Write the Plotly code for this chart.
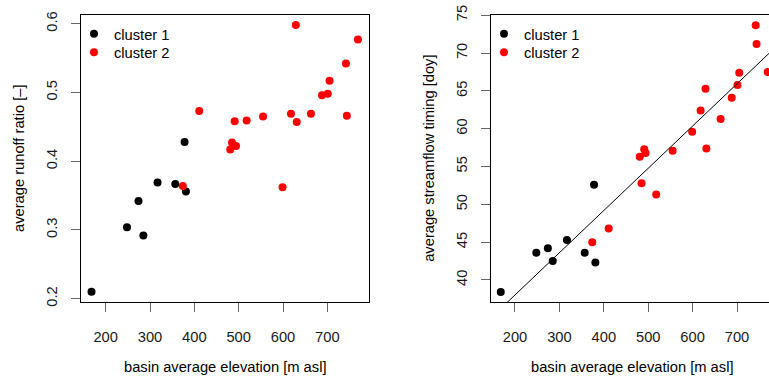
import plotly.graph_objects as go

# ---- data ----
c1_elev = [168, 248, 274, 285, 317, 357, 378, 381]
c1_runoff = [0.210, 0.304, 0.342, 0.292, 0.369, 0.367, 0.428, 0.356]
c1_timing = [38.4, 43.6, 44.2, 42.5, 45.3, 43.6, 52.6, 42.3]

c2_elev = [374, 411, 481, 485, 491, 494, 518, 555, 599, 618, 629, 631, 663, 688, 701, 705, 742, 744, 769]
c2_runoff = [0.364, 0.473, 0.417, 0.427, 0.458, 0.422, 0.459, 0.465, 0.362, 0.469, 0.598, 0.457,
             0.469, 0.496, 0.498, 0.517, 0.542, 0.466, 0.577]
c2_timing = [45.0, 46.8, 56.3, 52.8, 57.3, 56.8, 51.3, 57.1, 59.6, 62.4, 65.3, 57.4,
             61.3, 64.1, 65.8, 67.4, 73.7, 71.2, 67.5]

fit_intercept = 26.85
fit_slope = 0.05585

x_title = "basin average elevation [m asl]"
y1_title = "average runoff ratio [\u2013]"
y2_title = "average streamflow timing [doy]"

W, H = 769, 379
FONT = "Liberation Sans, Arial, sans-serif"
FS = 14.7

def px_x(p):
    return p / W

def px_y(p):
    return 1 - p / H

fig = go.Figure()

mk = dict(size=8, line=dict(width=0))
fig.add_trace(go.Scatter(x=c1_elev, y=c1_runoff, mode="markers", name="cluster 1",
                         marker=dict(color="black", **mk), xaxis="x", yaxis="y", legend="legend"))
fig.add_trace(go.Scatter(x=c2_elev, y=c2_runoff, mode="markers", name="cluster 2",
                         marker=dict(color="#ff0000", **mk), xaxis="x", yaxis="y", legend="legend2"))
fig.add_trace(go.Scatter(x=c1_elev, y=c1_timing, mode="markers", name="cluster 1",
                         marker=dict(color="black", **mk), xaxis="x2", yaxis="y2", legend="legend3"))
fig.add_trace(go.Scatter(x=c2_elev, y=c2_timing, mode="markers", name="cluster 2",
                         marker=dict(color="#ff0000", **mk), xaxis="x2", yaxis="y2", legend="legend4"))

line_x = [100, 900]
line_y = [fit_intercept + fit_slope * v for v in line_x]
fig.add_trace(go.Scatter(x=line_x, y=line_y, mode="lines", line=dict(color="black", width=1),
                         showlegend=False, xaxis="x2", yaxis="y2", hoverinfo="skip"))

yb = [px_y(302.3), px_y(14.7)]
tickfont = dict(family=FONT, size=FS, color="#1a1a1a")
common_x = dict(showgrid=False, zeroline=False, ticks="outside", ticklen=9, tickwidth=1,
                tickcolor="#666666", showline=True, linecolor="black", linewidth=1,
                tickvals=[200, 300, 400, 500, 600, 700], tickfont=tickfont,
                ticklabelstandoff=12, automargin=False)
common_y = dict(showgrid=False, zeroline=False, ticks="outside", ticklen=9, tickwidth=1,
                tickcolor="#666666", showline=True, linecolor="black", linewidth=1,
                tickangle=-90, tickfont=tickfont, ticklabelstandoff=8, automargin=False)

def leg(xp, yp):
    return dict(x=px_x(xp), y=px_y(yp), xanchor="left", yanchor="top", bgcolor="rgba(0,0,0,0)",
                font=dict(family=FONT, size=FS), itemwidth=30, tracegroupgap=0)

fig.update_layout(
    width=W, height=H,
    margin=dict(l=0, r=0, t=0, b=0, autoexpand=False),
    paper_bgcolor="white", plot_bgcolor="white",
    font=dict(family=FONT, size=FS, color="black"),
    xaxis=dict(domain=[px_x(81), px_x(369)], range=[144.3, 794], anchor="y", mirror=True, **common_x),
    yaxis=dict(domain=yb, range=[0.1948, 0.613], anchor="x", mirror=True,
               tickvals=[0.2, 0.3, 0.4, 0.5, 0.6], ticktext=["0.2", "0.3", "0.4", "0.5", "0.6"], **common_y),
    xaxis2=dict(domain=[px_x(490.7), 1.0], range=[145.3, 772], anchor="y2", mirror=True, **common_x),
    yaxis2=dict(domain=yb, range=[37.05, 75.08], anchor="x2", mirror=False,
                tickvals=[40, 45, 50, 55, 60, 65, 70, 75], **common_y),
    showlegend=True,
    legend=leg(74, 17.8),
    legend2=leg(74, 36.2),
    legend3=leg(484, 17.8),
    legend4=leg(484, 36.2),
    annotations=[
        dict(text=x_title, x=px_x(225), y=px_y(366.7), xref="paper", yref="paper",
             showarrow=False, xanchor="center", yanchor="middle", font=dict(family=FONT, size=FS)),
        dict(text=x_title, x=px_x(632), y=px_y(366.7), xref="paper", yref="paper",
             showarrow=False, xanchor="center", yanchor="middle", font=dict(family=FONT, size=FS)),
        dict(text=y1_title, x=px_x(18.5), y=px_y(158.5), xref="paper", yref="paper", textangle=-90,
             showarrow=False, xanchor="center", yanchor="middle", font=dict(family=FONT, size=FS)),
        dict(text=y2_title, x=px_x(428.3), y=px_y(158.5), xref="paper", yref="paper", textangle=-90,
             showarrow=False, xanchor="center", yanchor="middle", font=dict(family=FONT, size=FS)),
    ],
)

fig.write_html("out.html", config={"displayModeBar": False},
               post_script="document.body.style.margin='0px';")
